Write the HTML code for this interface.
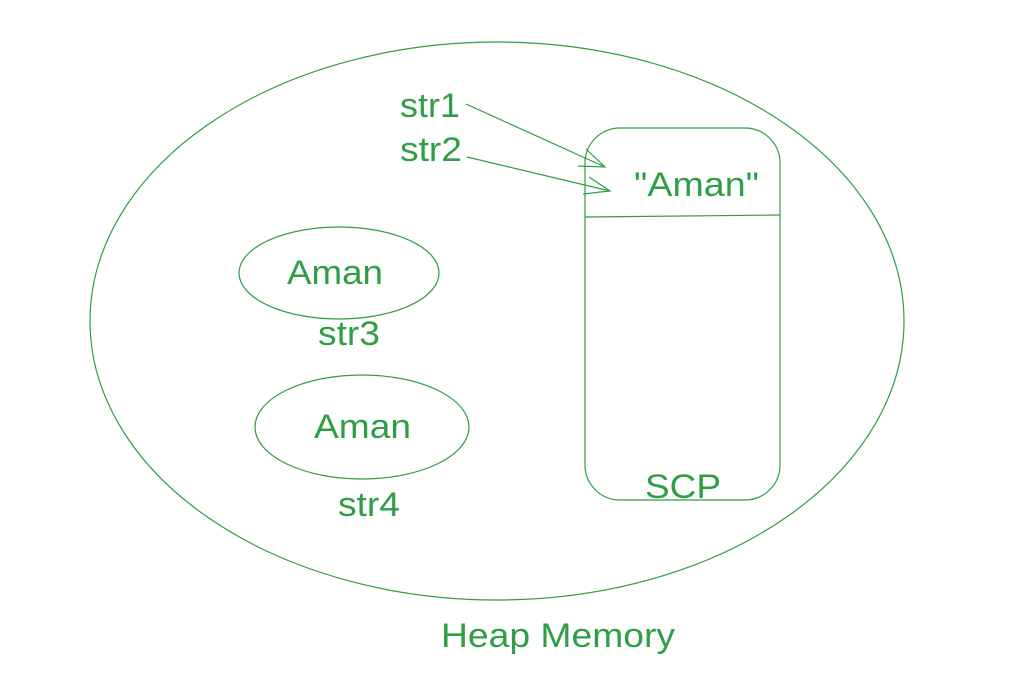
<!DOCTYPE html>
<html><head><style>body{margin:0;background:#fff}</style></head><body>
<svg width="1024" height="682" xmlns="http://www.w3.org/2000/svg" style="display:block">
<g fill="none" stroke="#2f9e44" stroke-width="1.2">
<ellipse cx="497" cy="321" rx="407" ry="279"/>
<rect x="585" y="128" width="195" height="372" rx="35"/>
<line x1="585" y1="217" x2="780" y2="215"/>
<ellipse cx="339" cy="273" rx="100" ry="46"/>
<ellipse cx="362" cy="427" rx="107" ry="52"/>
<polyline points="466,104 605,167"/>
<polyline points="586,149 605,167 578,166"/>
<polyline points="467,157 610,191"/>
<polyline points="589,177 610,191 583,194"/>
</g>
<g fill="#2f9e44" font-family="Liberation Sans, sans-serif" font-size="34" lengthAdjust="spacingAndGlyphs">
<text x="400" y="117" textLength="60" lengthAdjust="spacingAndGlyphs">str1</text>
<text x="400" y="161" textLength="62" lengthAdjust="spacingAndGlyphs">str2</text>
<text x="634" y="196" textLength="125" lengthAdjust="spacingAndGlyphs">"Aman"</text>
<text x="287" y="284" textLength="96" lengthAdjust="spacingAndGlyphs">Aman</text>
<text x="318" y="345" textLength="62" lengthAdjust="spacingAndGlyphs">str3</text>
<text x="314" y="438" textLength="97" lengthAdjust="spacingAndGlyphs">Aman</text>
<text x="338" y="516" textLength="62" lengthAdjust="spacingAndGlyphs">str4</text>
<text x="645" y="498" textLength="76" lengthAdjust="spacingAndGlyphs">SCP</text>
<text x="441" y="647" textLength="234" lengthAdjust="spacingAndGlyphs">Heap Memory</text>
</g>
</svg>
</body></html>
